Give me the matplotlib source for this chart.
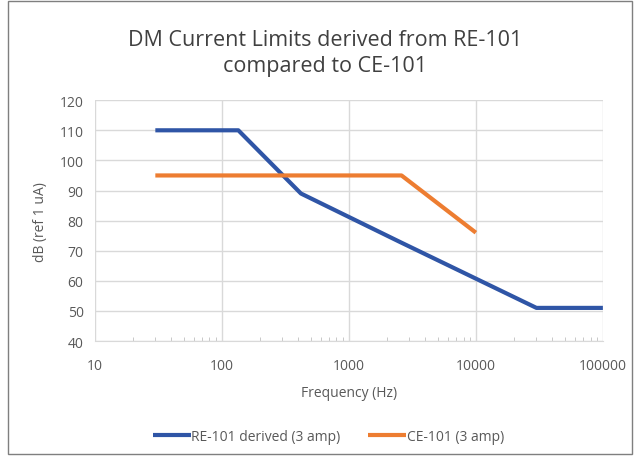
import matplotlib
matplotlib.use("Agg")
import matplotlib.pyplot as plt
from matplotlib.patches import Rectangle
from matplotlib.ticker import LogLocator, FixedLocator, NullFormatter

plt.rcParams['font.family'] = ['Open Sans', 'DejaVu Sans']

# RE-101 derived limit (3 amp)
re_freq = [30, 135, 420, 2500, 30000, 100000]
re_db = [110, 110, 89, 73, 51, 51]

# CE-101 limit (3 amp)
ce_freq = [30, 2600, 10000]
ce_db = [95, 95, 76]

x_ticks = [10, 100, 1000, 10000, 100000]
x_labels = ["10", "100", "1000", "10000", "100000"]
y_ticks = list(range(40, 121, 10))

TXT = "#595959"
GRID = "#d9d9d9"

fig = plt.figure(figsize=(6.4, 4.6), dpi=100)
ax = fig.add_axes([0.148, 0.2565, 0.794, 0.5235])

ax.plot(re_freq, re_db, color="#2f55a6", lw=3.0, solid_capstyle="butt",
        label="RE-101 derived (3 amp)")
ax.plot(ce_freq, ce_db, color="#ed7d31", lw=3.0, solid_capstyle="butt",
        label="CE-101 (3 amp)")

ax.set_xscale("log")
ax.set_xlim(10, 100000)
ax.set_ylim(40, 120)
ax.xaxis.set_major_locator(FixedLocator(x_ticks))
ax.set_xticklabels(x_labels)
ax.xaxis.set_minor_locator(LogLocator(base=10, subs=range(2, 10)))
ax.xaxis.set_minor_formatter(NullFormatter())
ax.set_yticks(y_ticks)

ax.grid(True, which="major", color=GRID, lw=1.0)
ax.set_axisbelow(True)
for s in ["top", "right", "left"]:
    ax.spines[s].set_visible(False)
ax.spines["bottom"].set_color(GRID)
ax.tick_params(axis="y", length=0, labelsize=10, colors=TXT, pad=8)
ax.tick_params(axis="x", which="major", length=0, labelsize=10, colors=TXT, pad=12)
ax.tick_params(axis="x", which="minor", length=3, color="#bfbfbf", direction="in")

ax.set_xlabel("Frequency (Hz)", fontsize=10, color=TXT, labelpad=9)
ax.set_ylabel("dB (ref 1 uA)", fontsize=10, color=TXT, labelpad=8)

fig.text(0.508, 0.883, "DM Current Limits derived from RE-101\ncompared to CE-101",
         ha="center", va="center", fontsize=15.5, color="#404040", linespacing=1.3)

ax.legend(loc="center", bbox_to_anchor=(0.46, -0.395), ncol=2, frameon=False,
          fontsize=10, labelcolor=TXT, handlelength=2.7, handletextpad=0.05,
          columnspacing=2.0)

fig.patches.append(Rectangle((0.012, 0.01), 0.976, 0.985, transform=fig.transFigure,
                             fill=False, edgecolor="#7f7f7f", lw=1.0))

fig.savefig("out.png", dpi=100)
